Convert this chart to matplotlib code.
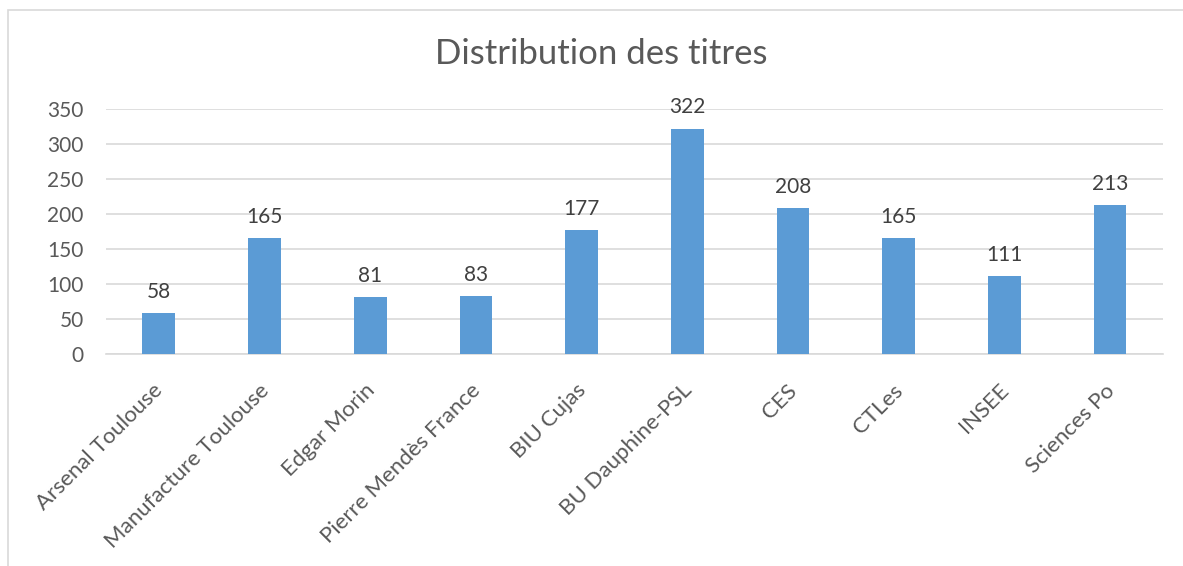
import matplotlib.pyplot as plt
import matplotlib.transforms as mtransforms
from matplotlib.patches import Rectangle

plt.rcParams['font.family'] = ['Lato', 'DejaVu Sans']

categories = ['Arsenal Toulouse', 'Manufacture Toulouse', 'Edgar Morin',
              'Pierre Mendès France', 'BIU Cujas', 'BU Dauphine-PSL', 'CES',
              'CTLes', 'INSEE', 'Sciences Po']
values = [58, 165, 81, 83, 177, 322, 208, 165, 111, 213]
yticks = [0, 50, 100, 150, 200, 250, 300, 350]

bar_color = '#5B9BD5'
text_color = '#595959'
grid_color = '#D9D9D9'

fig = plt.figure(figsize=(11.83, 5.66), dpi=100)
ax = fig.add_axes([0.0896, 0.3746, 0.8934, 0.4328])

# outer chart frame (cropped at right and bottom, as in the screenshot)
fig.patches.append(Rectangle((8 / 1183, -0.1), 1.2, 1.1 - 10 / 566,
                             transform=fig.transFigure, fill=False,
                             edgecolor=grid_color, linewidth=1.2))

x = range(len(categories))
bars = ax.bar(x, values, width=0.31, color=bar_color, zorder=3)

for xi, v in zip(x, values):
    ax.annotate(str(v), (xi, v), xytext=(0, 8), textcoords='offset points',
                ha='center', va='bottom', fontsize=15, color='#404040')

ax.set_xlim(-0.5, len(categories) - 0.5)
ax.set_ylim(0, 350)
ax.set_yticks(yticks)
ax.yaxis.grid(True, color=grid_color, linewidth=1.2, zorder=0)
ax.tick_params(axis='y', length=0, labelsize=15, labelcolor=text_color, pad=16)
ax.tick_params(axis='x', length=0, labelsize=16, labelcolor=text_color, pad=19)
ax.set_xticks(list(x))
ax.set_xticklabels(categories, rotation=45, ha='right', va='top',
                   rotation_mode='anchor')
# nudge rotated labels a little to the left
shift = mtransforms.ScaledTranslation(-6 / 100, 0, fig.dpi_scale_trans)
for lbl in ax.get_xticklabels():
    lbl.set_transform(lbl.get_transform() + shift)
for s in ['top', 'right', 'left']:
    ax.spines[s].set_visible(False)
ax.spines['bottom'].set_color(grid_color)
ax.spines['bottom'].set_linewidth(1.2)

fig.text(0.508, 0.905, 'Distribution des titres', ha='center', va='center',
         fontsize=25, color=text_color)

fig.savefig('out.png', dpi=100)
